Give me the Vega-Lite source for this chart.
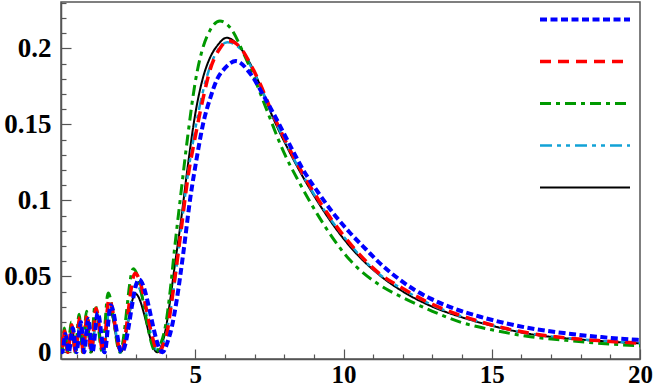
{
  "$schema": "https://vega.github.io/schema/vega-lite/v6.json",
  "width": 579,
  "height": 357,
  "autosize": {"type": "none"},
  "padding": {"left": 61, "top": 2, "right": 14, "bottom": 30},
  "background": "white",
  "config": {
    "view": {"stroke": "#555555", "strokeWidth": 1.5},
    "font": "Liberation Serif"
  },
  "datasets": {
    "curves": [
      {"s":"E","x":0.47,"y":0.008},{"s":"E","x":0.53,"y":0.003},{"s":"E","x":0.60,"y":0.013},{"s":"E","x":0.71,"y":0.002},{"s":"E","x":0.84,"y":0.016},{"s":"E","x":0.97,"y":0.001},{"s":"E","x":1.11,"y":0.020},{"s":"E","x":1.22,"y":0.0},{"s":"E","x":1.36,"y":0.020},{"s":"E","x":1.50,"y":0.0},{"s":"E","x":1.67,"y":0.024},{"s":"E","x":1.90,"y":0.0},{"s":"E","x":2.11,"y":0.028},{"s":"E","x":2.48,"y":0.0},{"s":"E","x":2.98,"y":0.0385},{"s":"E","x":3.72,"y":0.0},{"s":"E","x":3.85,"y":0.004},{"s":"E","x":4.0,"y":0.015},{"s":"E","x":4.15,"y":0.034},{"s":"E","x":4.3,"y":0.056},{"s":"E","x":4.5,"y":0.084},{"s":"E","x":4.75,"y":0.123},{"s":"E","x":5.0,"y":0.157},{"s":"E","x":5.25,"y":0.180},{"s":"E","x":5.5,"y":0.194},{"s":"E","x":5.75,"y":0.202},{"s":"E","x":6.06,"y":0.207},{"s":"E","x":6.4,"y":0.203},{"s":"E","x":6.85,"y":0.190},{"s":"E","x":7.2,"y":0.175},{"s":"E","x":7.52,"y":0.159},{"s":"E","x":8.2,"y":0.131},{"s":"E","x":9.1,"y":0.100},{"s":"E","x":10.2,"y":0.070},{"s":"E","x":11.2,"y":0.051},{"s":"E","x":12.0,"y":0.040},{"s":"E","x":13.0,"y":0.030},{"s":"E","x":14.0,"y":0.023},{"s":"E","x":15.0,"y":0.0175},{"s":"E","x":16.3,"y":0.012},{"s":"E","x":17.5,"y":0.0092},{"s":"E","x":18.7,"y":0.0074},{"s":"E","x":20.0,"y":0.0059},

      {"s":"D","x":0.47,"y":0.009},{"s":"D","x":0.53,"y":0.003},{"s":"D","x":0.60,"y":0.012},{"s":"D","x":0.71,"y":0.001},{"s":"D","x":0.84,"y":0.015},{"s":"D","x":0.97,"y":0.0},{"s":"D","x":1.11,"y":0.019},{"s":"D","x":1.22,"y":0.0},{"s":"D","x":1.36,"y":0.021},{"s":"D","x":1.50,"y":0.0},{"s":"D","x":1.67,"y":0.025},{"s":"D","x":1.91,"y":0.0},{"s":"D","x":2.11,"y":0.030},{"s":"D","x":2.50,"y":0.0},{"s":"D","x":3.0,"y":0.045},{"s":"D","x":3.76,"y":0.0},{"s":"D","x":3.9,"y":0.005},{"s":"D","x":4.05,"y":0.015},{"s":"D","x":4.2,"y":0.032},{"s":"D","x":4.35,"y":0.053},{"s":"D","x":4.5,"y":0.078},{"s":"D","x":4.75,"y":0.117},{"s":"D","x":5.0,"y":0.147},{"s":"D","x":5.25,"y":0.171},{"s":"D","x":5.5,"y":0.188},{"s":"D","x":5.8,"y":0.200},{"s":"D","x":6.08,"y":0.204},{"s":"D","x":6.5,"y":0.200},{"s":"D","x":6.85,"y":0.189},{"s":"D","x":7.2,"y":0.175},{"s":"D","x":7.52,"y":0.160},{"s":"D","x":8.2,"y":0.132},{"s":"D","x":9.1,"y":0.101},{"s":"D","x":10.2,"y":0.0715},{"s":"D","x":11.2,"y":0.0515},{"s":"D","x":12.0,"y":0.0415},{"s":"D","x":13.0,"y":0.031},{"s":"D","x":14.0,"y":0.0235},{"s":"D","x":15.0,"y":0.0178},{"s":"D","x":16.3,"y":0.0123},{"s":"D","x":17.5,"y":0.0094},{"s":"D","x":18.7,"y":0.0075},{"s":"D","x":20.0,"y":0.006},

      {"s":"C","x":0.47,"y":0.006},{"s":"C","x":0.52,"y":0.001},{"s":"C","x":0.58,"y":0.016},{"s":"C","x":0.69,"y":0.0},{"s":"C","x":0.82,"y":0.020},{"s":"C","x":0.95,"y":0.0},{"s":"C","x":1.08,"y":0.025},{"s":"C","x":1.20,"y":0.0},{"s":"C","x":1.33,"y":0.027},{"s":"C","x":1.47,"y":0.0},{"s":"C","x":1.62,"y":0.031},{"s":"C","x":1.86,"y":0.0},{"s":"C","x":2.06,"y":0.039},{"s":"C","x":2.46,"y":0.0},{"s":"C","x":2.91,"y":0.055},{"s":"C","x":3.68,"y":0.0},{"s":"C","x":3.82,"y":0.005},{"s":"C","x":4.0,"y":0.018},{"s":"C","x":4.15,"y":0.040},{"s":"C","x":4.3,"y":0.068},{"s":"C","x":4.5,"y":0.102},{"s":"C","x":4.75,"y":0.143},{"s":"C","x":5.0,"y":0.178},{"s":"C","x":5.25,"y":0.200},{"s":"C","x":5.5,"y":0.212},{"s":"C","x":5.83,"y":0.218},{"s":"C","x":6.2,"y":0.213},{"s":"C","x":6.6,"y":0.198},{"s":"C","x":7.0,"y":0.180},{"s":"C","x":7.4,"y":0.160},{"s":"C","x":8.0,"y":0.131},{"s":"C","x":8.5,"y":0.112},{"s":"C","x":9.1,"y":0.0914},{"s":"C","x":10.2,"y":0.061},{"s":"C","x":11.2,"y":0.0445},{"s":"C","x":12.0,"y":0.036},{"s":"C","x":13.0,"y":0.027},{"s":"C","x":14.0,"y":0.0195},{"s":"C","x":15.0,"y":0.0148},{"s":"C","x":16.3,"y":0.0103},{"s":"C","x":17.5,"y":0.0079},{"s":"C","x":18.7,"y":0.0058},{"s":"C","x":20.0,"y":0.0043},

      {"s":"B","x":0.47,"y":0.010},{"s":"B","x":0.53,"y":0.004},{"s":"B","x":0.59,"y":0.014},{"s":"B","x":0.70,"y":0.0},{"s":"B","x":0.83,"y":0.018},{"s":"B","x":0.96,"y":0.0},{"s":"B","x":1.10,"y":0.023},{"s":"B","x":1.22,"y":0.0},{"s":"B","x":1.35,"y":0.025},{"s":"B","x":1.49,"y":0.0},{"s":"B","x":1.65,"y":0.029},{"s":"B","x":1.89,"y":0.0},{"s":"B","x":2.09,"y":0.035},{"s":"B","x":2.50,"y":0.0},{"s":"B","x":2.97,"y":0.052},{"s":"B","x":3.78,"y":0.0},{"s":"B","x":3.92,"y":0.005},{"s":"B","x":4.05,"y":0.013},{"s":"B","x":4.15,"y":0.026},{"s":"B","x":4.3,"y":0.047},{"s":"B","x":4.5,"y":0.077},{"s":"B","x":4.75,"y":0.115},{"s":"B","x":5.0,"y":0.142},{"s":"B","x":5.25,"y":0.166},{"s":"B","x":5.5,"y":0.186},{"s":"B","x":5.8,"y":0.199},{"s":"B","x":6.11,"y":0.205},{"s":"B","x":6.5,"y":0.201},{"s":"B","x":6.85,"y":0.190},{"s":"B","x":7.2,"y":0.176},{"s":"B","x":7.52,"y":0.161},{"s":"B","x":8.2,"y":0.133},{"s":"B","x":9.1,"y":0.102},{"s":"B","x":10.2,"y":0.072},{"s":"B","x":11.2,"y":0.052},{"s":"B","x":12.0,"y":0.042},{"s":"B","x":13.0,"y":0.0315},{"s":"B","x":14.0,"y":0.024},{"s":"B","x":15.0,"y":0.018},{"s":"B","x":16.3,"y":0.0125},{"s":"B","x":17.5,"y":0.0095},{"s":"B","x":18.7,"y":0.0076},{"s":"B","x":20.0,"y":0.006},

      {"s":"A","x":0.47,"y":0.002},{"s":"A","x":0.51,"y":0.0},{"s":"A","x":0.62,"y":0.012},{"s":"A","x":0.73,"y":0.0},{"s":"A","x":0.87,"y":0.016},{"s":"A","x":0.99,"y":0.0},{"s":"A","x":1.14,"y":0.020},{"s":"A","x":1.25,"y":0.0},{"s":"A","x":1.39,"y":0.022},{"s":"A","x":1.53,"y":0.0},{"s":"A","x":1.71,"y":0.026},{"s":"A","x":1.94,"y":0.0},{"s":"A","x":2.15,"y":0.031},{"s":"A","x":2.52,"y":0.0},{"s":"A","x":3.10,"y":0.048},{"s":"A","x":3.90,"y":0.0},{"s":"A","x":4.05,"y":0.006},{"s":"A","x":4.2,"y":0.016},{"s":"A","x":4.37,"y":0.034},{"s":"A","x":4.6,"y":0.066},{"s":"A","x":4.82,"y":0.100},{"s":"A","x":5.05,"y":0.128},{"s":"A","x":5.27,"y":0.151},{"s":"A","x":5.5,"y":0.167},{"s":"A","x":5.72,"y":0.179},{"s":"A","x":6.0,"y":0.187},{"s":"A","x":6.37,"y":0.1916},{"s":"A","x":6.85,"y":0.1835},{"s":"A","x":7.3,"y":0.169},{"s":"A","x":7.75,"y":0.153},{"s":"A","x":8.2,"y":0.136},{"s":"A","x":8.64,"y":0.120},{"s":"A","x":9.15,"y":0.105},{"s":"A","x":9.66,"y":0.0914},{"s":"A","x":10.2,"y":0.079},{"s":"A","x":10.78,"y":0.0673},{"s":"A","x":11.23,"y":0.0585},{"s":"A","x":11.91,"y":0.0476},{"s":"A","x":12.4,"y":0.041},{"s":"A","x":12.92,"y":0.0355},{"s":"A","x":13.7,"y":0.029},{"s":"A","x":14.61,"y":0.0234},{"s":"A","x":15.5,"y":0.019},{"s":"A","x":16.3,"y":0.0158},{"s":"A","x":17.5,"y":0.0125},{"s":"A","x":18.7,"y":0.010},{"s":"A","x":20.0,"y":0.0081}
    ]
  },
  "data": {"name": "curves"},
  "mark": {"type": "line", "interpolate": "monotone", "strokeCap": "butt", "strokeJoin": "round", "clip": true},
  "encoding": {
    "x": {
      "field": "x", "type": "quantitative",
      "scale": {"domain": [0.47, 20], "nice": false, "zero": false},
      "axis": {
        "title": null, "grid": false,
        "values": [1,2,3,4,5,6,7,8,9,10,11,12,13,14,15,16,17,18,19,20],
        "labelExpr": "datum.value % 5 === 0 ? datum.label : ''",
        "tickSize": {"condition": {"test": "datum.value % 5 === 0", "value": -10}, "value": -5},
        "tickColor": "#555555", "tickWidth": 1.2,
        "domainColor": "#555555", "domainWidth": 1.5,
        "labelFont": "Liberation Serif", "labelFontWeight": "bold", "labelFontSize": 25,
        "labelColor": "#000000", "labelPadding": 13, "labelFlush": false, "labelOverlap": false
      }
    },
    "y": {
      "field": "y", "type": "quantitative",
      "scale": {"domain": [-0.0044, 0.2305], "nice": false, "zero": false},
      "axis": {
        "title": null, "grid": false,
        "values": [0,0.01,0.02,0.03,0.04,0.05,0.06,0.07,0.08,0.09,0.1,0.11,0.12,0.13,0.14,0.15,0.16,0.17,0.18,0.19,0.2,0.21,0.22,0.23],
        "labelExpr": "round(datum.value*100) % 5 === 0 ? format(datum.value, '~g') : ''",
        "tickSize": {"condition": {"test": "round(datum.value*100) % 5 === 0", "value": -10}, "value": -5},
        "tickColor": "#555555", "tickWidth": 1.2,
        "domainColor": "#555555", "domainWidth": 1.5,
        "labelFont": "Liberation Serif", "labelFontWeight": "bold", "labelFontSize": 27,
        "labelColor": "#000000", "labelPadding": 20, "labelOverlap": false
      }
    },
    "color": {
      "field": "s", "type": "nominal",
      "scale": {"domain": ["A","B","C","D","E"], "range": ["#0000ff","#ff0000","#009900","#12a2d6","#000000"]},
      "legend": {
        "orient": "none", "legendX": 477, "legendY": 7.5, "title": null,
        "symbolType": "stroke", "symbolSize": 8100, "clipHeight": 20, "rowPadding": 22,
        "labelExpr": "''", "labelOffset": 0, "padding": 0, "symbolOffset": 0
      }
    },
    "strokeDash": {
      "field": "s", "type": "nominal",
      "scale": {"domain": ["A","B","C","D","E"], "range": [[7,3.5],[11,7],[11,5,4,5],[12,5,4,5,4,5],[1,0]]},
      "legend": {
        "orient": "none", "legendX": 477, "legendY": 7.5, "title": null,
        "symbolType": "stroke", "symbolSize": 8100, "clipHeight": 20, "rowPadding": 22,
        "labelExpr": "''", "labelOffset": 0, "padding": 0, "symbolOffset": 0
      }
    },
    "strokeWidth": {
      "field": "s", "type": "nominal",
      "scale": {"domain": ["A","B","C","D","E"], "range": [4,2,2,2,2]},
      "legend": {
        "orient": "none", "legendX": 477, "legendY": 7.5, "title": null,
        "symbolType": "stroke", "symbolSize": 8100, "clipHeight": 20, "rowPadding": 22,
        "labelExpr": "''", "labelOffset": 0, "padding": 0, "symbolOffset": 0
      }
    }
  }
}
